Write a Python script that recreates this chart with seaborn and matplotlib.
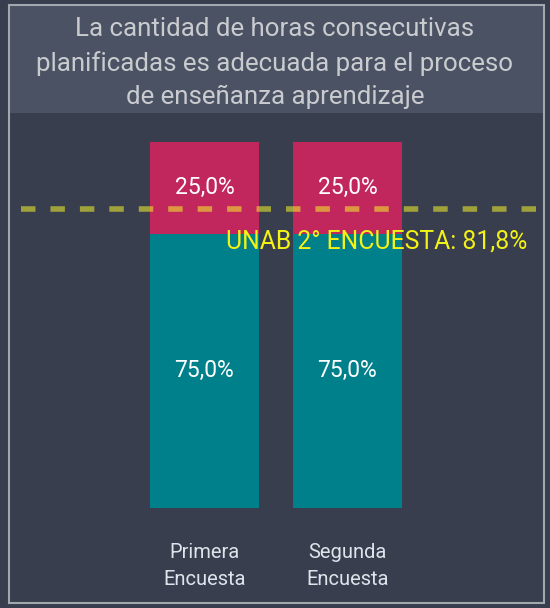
import matplotlib
matplotlib.use("Agg")
import matplotlib.pyplot as plt
import matplotlib.patches as mpatches
import matplotlib.transforms as mtransforms
import pandas as pd
import seaborn as sns

# datos de la encuesta
encuestas = ["Primera\nEncuesta", "Segunda\nEncuesta"]
pct_si = [75.0, 75.0]
pct_no = [25.0, 25.0]
ref_unab = 81.8
ref_label = "UNAB 2° ENCUESTA: 81,8%"
titulo = "La cantidad de horas consecutivas\nplanificadas es adecuada para el proceso\nde enseñanza aprendizaje"

W, H = 550, 608
bg = "#393e4f"
band = "#4a5263"
rosa = "#c1275c"
verde = "#00808a"

sns.set_theme(style="dark")
plt.rcParams["font.family"] = ["Roboto", "DejaVu Sans"]

df = pd.DataFrame({"encuesta": encuestas, "si": pct_si, "no": pct_no})
df["total"] = df["si"] + df["no"]

fig = plt.figure(figsize=(W / 100, H / 100), dpi=100)
fig.patch.set_facecolor(bg)

# banda del titulo y marco
fig.patches.append(mpatches.Rectangle((9 / W, 1 - 113 / H), 535 / W, 108 / H,
                                      transform=fig.transFigure, facecolor=band, edgecolor="none", zorder=0))
fig.patches.append(mpatches.Rectangle((9 / W, 1 - 603 / H), 535 / W, 598 / H,
                                      transform=fig.transFigure, facecolor="none", edgecolor="#a3a7ae", lw=1.5, zorder=5))
fig.text(0.5, 1 - 63 / H, titulo, ha="center", va="center", color="#c9cbcf", fontsize=18.6,
         linespacing=1.47)

ax = fig.add_axes([9 / W, 1 - 508 / H, 535 / W, 395 / H])
ax.set_facecolor(bg)
ancho = 109 / 143
sns.barplot(data=df, x="encuesta", y="total", color=rosa, saturation=1, width=ancho, ax=ax,
            zorder=2, linewidth=0)
sns.barplot(data=df, x="encuesta", y="si", color=verde, saturation=1, width=ancho, ax=ax,
            zorder=3, linewidth=0)

for i, row in df.iterrows():
    ax.text(i, row["si"] / 2, f"{row['si']:.1f}%".replace(".", ","), ha="center", va="center",
            color="white", fontsize=16.5, zorder=4)
    ax.text(i, row["si"] + row["no"] / 2, f"{row['no']:.1f}%".replace(".", ","), ha="center", va="center",
            color="white", fontsize=16.5, zorder=4)

ax.axhline(ref_unab, xmin=12 / 535, xmax=528 / 535, color="#f5f52a", alpha=0.55, lw=4,
           dashes=(2.6, 2.7), zorder=5)
trans = mtransforms.blended_transform_factory(ax.transAxes, ax.transData)
ax.annotate(ref_label, xy=(518 / 535, ref_unab), xycoords=trans, xytext=(0, -33),
            textcoords="offset pixels", ha="right", va="center", color="#f2f215", fontsize=17.8, zorder=6)

ax.set_xlim((9 - 204.5) / 143, (544 - 204.5) / 143)
ax.set_ylim(0, 395 / 3.66)
ax.set_yticks([])
ax.set_xlabel("")
ax.set_ylabel("")
ax.tick_params(axis="x", length=0, pad=25, labelsize=14.5, labelcolor="#dfe3ea")
for lab in ax.get_xticklabels():
    lab.set_linespacing(1.55)
for s in ax.spines.values():
    s.set_visible(False)
ax.grid(False)

plt.savefig("out.png", dpi=100, facecolor=bg)
